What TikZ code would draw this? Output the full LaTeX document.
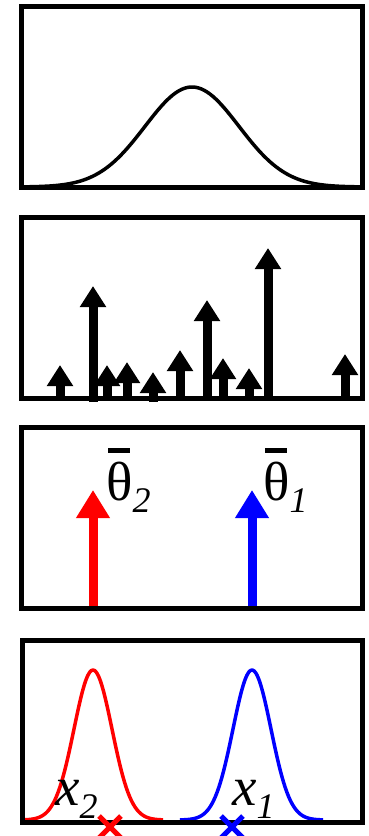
\documentclass[tikz,border=0pt]{standalone}
\usepackage{fontspec}
\setmainfont{Liberation Serif}
\usetikzlibrary{arrows.meta}

% label with a bar above the letter and a lowered italic index
\newcommand{\barlbl}[2]{\rlap{\hspace{2pt}\raisebox{47pt}{\rule{22pt}{5pt}}}#1\raisebox{-12pt}{\fontsize{36}{36}\selectfont\itshape #2}}
\newcommand{\sublbl}[2]{\itshape #1\raisebox{-13pt}{\fontsize{36}{36}\selectfont\itshape #2}}

\begin{document}
\begin{tikzpicture}[x=1pt, y=-1pt,
      panel/.style={draw, line width=5pt},
      curve/.style={line width=3.5pt, line join=round},
      spike/.style={line width=9pt, -{Triangle[width=25pt,length=21pt]}},
      peak/.style ={line width=9pt, -{Triangle[width=32pt,length=28pt]}},
      cross/.style={line width=5pt},
      lbl/.style  ={inner sep=0pt, anchor=base west, font=\fontsize{55}{55}\selectfont}]
    \useasboundingbox (0,0) rectangle (369,836);
    % --- PANEL 1: one broad bell curve ---
    \draw[curve] plot[domain=21:362, samples=120, smooth] (\x, {187-100*exp(-((\x-192)/47)^2/2)});
    \draw[panel] (21,6) rectangle (362,187);
    % --- PANEL 2: many spikes of different heights ---
    \foreach \ax/\atip/\abase in {60/365/398, 93/286/402, 107/365/398, 127/362/398,
                                  153/372/402, 180/350/398, 207/300/398, 223/358/398,
                                  249/368/398, 268/248/398, 345/354/398}
      \draw[spike] (\ax,\abase) -- (\ax,\atip);
    \draw[panel] (21,217) rectangle (362,398);
    % --- PANEL 3: two mean spikes ---
    \draw[peak, red]  (93,608) -- (93,490);
    \draw[peak, blue] (252,608) -- (252,490);
    \draw[panel] (21,427) rectangle (362,608);
    \node[lbl] (th2) at (106,500) {\barlbl{θ}{2}};
    \node[lbl] (th1) at (263,500) {\barlbl{θ}{1}};
    % --- PANEL 4: two narrow bell curves and the samples ---
    \draw[curve, red]  plot[domain=25:163, samples=80, smooth] (\x, {820-150*exp(-((\x-93)/19)^2/2)});
    \draw[curve, blue] plot[domain=180:323, samples=80, smooth] (\x, {820-150*exp(-((\x-252)/19)^2/2)});
    \draw[panel] (22,640) rectangle (362,822);
    \node[lbl] (x2) at (55,805) {\sublbl{x}{2}};
    \node[lbl] (x1) at (232,805) {\sublbl{x}{1}};
    \draw[cross, red]  (99,816) -- (121,838) (99,838) -- (121,816);
    \draw[cross, blue] (221,816) -- (243,838) (221,838) -- (243,816);
  \end{tikzpicture}
\end{document}
